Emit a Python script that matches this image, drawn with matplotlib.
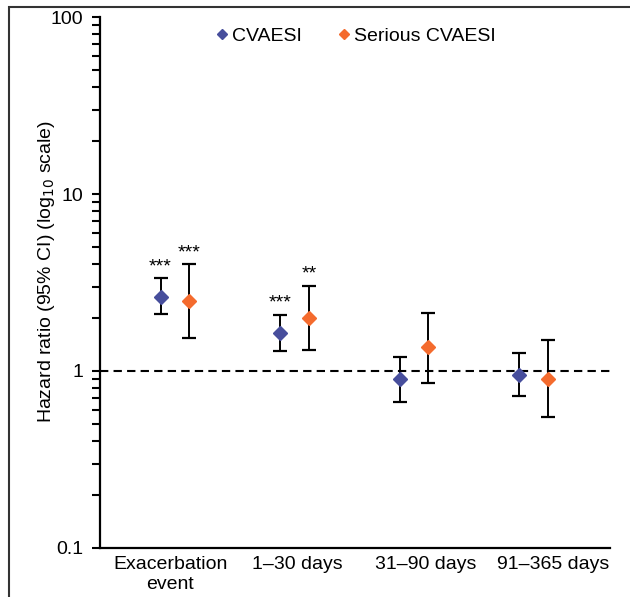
import numpy as np
import matplotlib.pyplot as plt
from matplotlib.patches import Rectangle
from matplotlib.ticker import LogLocator, NullFormatter, FixedLocator, FixedFormatter

categories = ["Exacerbation\nevent", "1\u201330 days", "31\u201390 days", "91\u2013365 days"]

hr_cv = [2.62, 1.63, 0.90, 0.95]
lo_cv = [2.10, 1.29, 0.67, 0.72]
hi_cv = [3.35, 2.08, 1.20, 1.27]
sig_cv = ["***", "***", "", ""]

hr_ser = [2.49, 1.99, 1.36, 0.90]
lo_ser = [1.54, 1.32, 0.86, 0.55]
hi_ser = [4.02, 3.03, 2.13, 1.50]
sig_ser = ["***", "**", "", ""]

BLUE = "#474e9c"
ORANGE = "#f46b2e"

plt.rcParams.update({
    "font.family": ["Liberation Sans", "DejaVu Sans"],
    "font.size": 14,
})

fig = plt.figure(figsize=(6.3, 5.97), dpi=100)
ax = fig.add_axes([0.1587, 0.0821, 0.81, 0.8894])

# outer frame (only left/top visible in the reference)
fig.patches.append(Rectangle((9 / 630, -0.2), 1.2, 1.2 - 7 / 597,
                             transform=fig.transFigure, fill=False,
                             edgecolor="#333333", linewidth=1.5))

x = np.arange(len(categories))
off = 0.121
xlim = (-0.628, 3.643)

for xs, hr, lo, hi, sig, color, label in [
    (x - off, hr_cv, lo_cv, hi_cv, sig_cv, BLUE, "CVAESI"),
    (x + off, hr_ser, lo_ser, hi_ser, sig_ser, ORANGE, "Serious CVAESI"),
]:
    hr = np.array(hr)
    yerr = [hr - np.array(lo), np.array(hi) - hr]
    ax.errorbar(xs, hr, yerr=yerr, fmt="none", ecolor="black",
                elinewidth=1.4, capsize=5, capthick=1.6, zorder=2)
    ax.plot(xs, hr, linestyle="none", marker="D", markersize=7,
            color=color, label=label, zorder=3)
    for xi, h, s in zip(xs, hi, sig):
        if s:
            ax.text(xi, h * 1.04, s, ha="center", va="bottom", fontsize=14)

ax.axhline(1, color="black", linestyle=(0, (4, 2.5)), linewidth=1.5, zorder=1)

ax.set_yscale("log")
ax.set_ylim(0.1, 100)
ax.set_xlim(*xlim)

ax.yaxis.set_major_locator(FixedLocator([0.1, 1, 10, 100]))
ax.yaxis.set_major_formatter(FixedFormatter(["0.1", "1", "10", "100"]))
ax.yaxis.set_minor_locator(LogLocator(base=10, subs=np.arange(2, 10)))
ax.yaxis.set_minor_formatter(NullFormatter())
ax.tick_params(axis="y", which="both", direction="out", length=6, width=1.5,
               labelsize=14, pad=6)

# category labels sit near the centres of equal-width category slots
n = len(categories)
tick_pos = xlim[0] + (np.arange(n) + 0.5 + 0.05) / n * (xlim[1] - xlim[0])
ax.set_xticks(tick_pos)
ax.set_xticklabels(categories, fontsize=14)
ax.tick_params(axis="x", length=0, pad=6)

ax.set_ylabel(r"Hazard ratio (95% CI) (log$_{10}$ scale)", fontsize=14)
ax.yaxis.set_label_coords(-0.085, 0.52)

for side in ["top", "right"]:
    ax.spines[side].set_visible(False)
for side in ["left", "bottom"]:
    ax.spines[side].set_linewidth(1.6)

ax.legend(loc="upper center", bbox_to_anchor=(0.50, 1.013), ncol=2, frameon=False,
          handletextpad=0.1, columnspacing=1.8, markerscale=0.8, fontsize=14,
          handlelength=0.8)

fig.savefig("out.png", dpi=100)
